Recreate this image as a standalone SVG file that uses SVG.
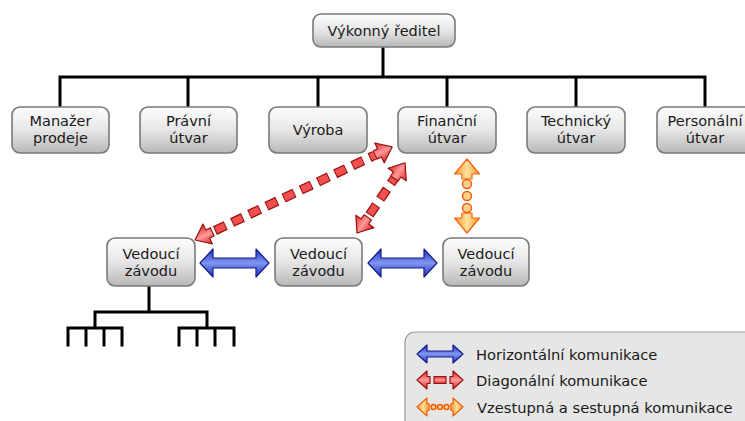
<svg xmlns="http://www.w3.org/2000/svg" width="745" height="421" viewBox="0 0 745 421">
<defs>
<linearGradient id="gBox" x1="0" y1="0" x2="0" y2="1">
<stop offset="0" stop-color="#fefefe"/>
<stop offset="0.5" stop-color="#e6e6e6"/>
<stop offset="1" stop-color="#b8b8b8"/>
</linearGradient>
<linearGradient id="gBlue" x1="0" y1="0" x2="0" y2="1">
<stop offset="0" stop-color="#1f2fc0"/>
<stop offset="0.5" stop-color="#8096f0"/>
<stop offset="1" stop-color="#1f2fc0"/>
</linearGradient>
<linearGradient id="gRed" x1="0" y1="0" x2="0" y2="1">
<stop offset="0" stop-color="#e02828"/>
<stop offset="0.5" stop-color="#ff9a9a"/>
<stop offset="1" stop-color="#d82020"/>
</linearGradient>
<linearGradient id="gOrange" x1="0" y1="0" x2="1" y2="0">
<stop offset="0" stop-color="#ff9a20"/>
<stop offset="0.5" stop-color="#ffe0a0"/>
<stop offset="1" stop-color="#ff9a20"/>
</linearGradient>
<polygon id="redHead" points="0,0 14,-11 14,-4.5 19,-4.5 19,4.5 14,4.5 14,11"/>
<polygon id="orHead" points="0,0 12.5,15 5,15 5,20 -5,20 -5,15 -12.5,15"/>
</defs>
<style>
.box{fill:url(#gBox);stroke:#7a7a7a;stroke-width:1.6}
.t{font-family:"DejaVu Sans","Verdana",sans-serif;font-size:14.5px;fill:#1a1a1a;text-anchor:middle}
.lt{font-family:"DejaVu Sans","Verdana",sans-serif;font-size:14.7px;fill:#1a1a1a}
.tree{fill:none;stroke:#000;stroke-width:3;stroke-linecap:square}
.blue{fill:url(#gBlue);stroke:#141c88;stroke-width:1.2;stroke-linejoin:round}
.redh{fill:url(#gRed);stroke:#9a1010;stroke-width:1.2;stroke-linejoin:round}
.redo{stroke:#9a1010;stroke-width:9.5;stroke-dasharray:12 7}
.redi{stroke:#f25050;stroke-width:7;stroke-dasharray:10 9;stroke-dashoffset:-1}
.orh{fill:url(#gOrange);stroke:#f06010;stroke-width:1.2;stroke-linejoin:round}
.orc{fill:#ffd08a;stroke:#f06010;stroke-width:1.5}
.legend{fill:#e6e6e6;stroke:#9a9a9a;stroke-width:1.2}
</style>

<g id="connectors">
<path class="tree" d="M383,47 V77 M60,77 H705 M60,77 V107 M188,77 V107 M318,77 V107 M447,77 V107 M576,77 V107 M705,77 V107"/>
<path class="tree" d="M149,286 V312 M95,312 H207 M95,312 V328 M207,312 V328 M68,328 H122 M179,328 H234 M68,328 V345 M86,328 V345 M104,328 V345 M122,328 V345 M179,328 V345 M197,328 V345 M215,328 V345 M234,328 V345"/>
<polygon class="blue" points="200,263 213,249 213,258 256,258 256,249 269,263 256,277 256,268 213,268 213,277"/>
<polygon class="blue" points="368,263 381,249 381,258 424,258 424,249 437,263 424,277 424,268 381,268 381,277"/>
<g transform="translate(195,240) rotate(-25.27)">
<line class="redo" x1="22" y1="0" x2="198" y2="0"/>
<line class="redi" x1="22" y1="0" x2="198" y2="0"/>
<use href="#redHead" class="redh"/>
<use href="#redHead" class="redh" transform="translate(218,0) scale(-1,1)"/>
</g>
<g transform="translate(357,233) rotate(-55.56)">
<line class="redo" x1="22" y1="0" x2="66" y2="0"/>
<line class="redi" x1="22" y1="0" x2="66" y2="0"/>
<use href="#redHead" class="redh"/>
<use href="#redHead" class="redh" transform="translate(85,0) scale(-1,1)"/>
</g>
<use href="#orHead" class="orh" transform="translate(467,159)"/>
<use href="#orHead" class="orh" transform="translate(467,233) scale(1,-1)"/>
<circle class="orc" cx="467" cy="184" r="4.5"/>
<circle class="orc" cx="467" cy="196" r="4.5"/>
<circle class="orc" cx="467" cy="208" r="4.5"/>
</g>

<g id="n-ceo"><rect class="box" x="313" y="14" width="142" height="33" rx="8"/><text class="t" x="384" y="36">Výkonný ředitel</text></g>
<g id="n-sales"><rect class="box" x="12" y="107" width="97" height="46" rx="8"/><text class="t" x="60.5" y="125.5">Manažer</text><text class="t" x="60.5" y="142.5">prodeje</text></g>
<g id="n-legal"><rect class="box" x="140" y="107" width="97" height="46" rx="8"/><text class="t" x="188.5" y="125.5">Právní</text><text class="t" x="188.5" y="142.5">útvar</text></g>
<g id="n-prod"><rect class="box" x="269" y="107" width="98" height="46" rx="8"/><text class="t" x="318" y="135">Výroba</text></g>
<g id="n-fin"><rect class="box" x="398" y="107" width="98" height="46" rx="8"/><text class="t" x="447" y="125.5">Finanční</text><text class="t" x="447" y="142.5">útvar</text></g>
<g id="n-tech"><rect class="box" x="527" y="107" width="98" height="46" rx="8"/><text class="t" x="576" y="125.5">Technický</text><text class="t" x="576" y="142.5">útvar</text></g>
<g id="n-hr"><rect class="box" x="657" y="107" width="97" height="46" rx="8"/><text class="t" x="705" y="125.5">Personální</text><text class="t" x="705" y="142.5">útvar</text></g>
<g id="n-plant1"><rect class="box" x="107" y="238" width="88" height="48" rx="8"/><text class="t" x="151" y="258.5">Vedoucí</text><text class="t" x="151" y="275.5">závodu</text></g>
<g id="n-plant2"><rect class="box" x="275" y="238" width="87" height="48" rx="8"/><text class="t" x="318.5" y="258.5">Vedoucí</text><text class="t" x="318.5" y="275.5">závodu</text></g>
<g id="n-plant3"><rect class="box" x="443" y="238" width="86" height="48" rx="8"/><text class="t" x="486" y="258.5">Vedoucí</text><text class="t" x="486" y="275.5">závodu</text></g>

<g id="legend">
<rect class="legend" x="405" y="332" width="360" height="110" rx="10"/>
<polygon class="blue" points="417,354 427,345 427,351 453,351 453,345 463,354 453,363 453,357 427,357 427,363"/>
<text class="lt" x="476" y="360">Horizontální komunikace</text>
<g transform="translate(417,380)">
<polygon class="redh" points="0,0 10,-9 10,-3.5 13,-3.5 13,3.5 10,3.5 10,9"/>
<rect class="redh" x="17" y="-3.5" width="12" height="7"/>
<polygon class="redh" points="46,0 36,-9 36,-3.5 33,-3.5 33,3.5 36,3.5 36,9"/>
</g>
<text class="lt" x="476" y="386">Diagonální komunikace</text>
<g transform="translate(417,407)">
<polygon class="orh" points="0,0 10,-9 10,-3.5 12,-3.5 12,3.5 10,3.5 10,9"/>
<circle class="orc" cx="16.5" cy="0" r="2.5"/>
<circle class="orc" cx="23" cy="0" r="2.5"/>
<circle class="orc" cx="29.5" cy="0" r="2.5"/>
<polygon class="orh" points="46,0 36,-9 36,-3.5 34,-3.5 34,3.5 36,3.5 36,9"/>
</g>
<text class="lt" x="477" y="413">Vzestupná a sestupná komunikace</text>
</g>
</svg>
